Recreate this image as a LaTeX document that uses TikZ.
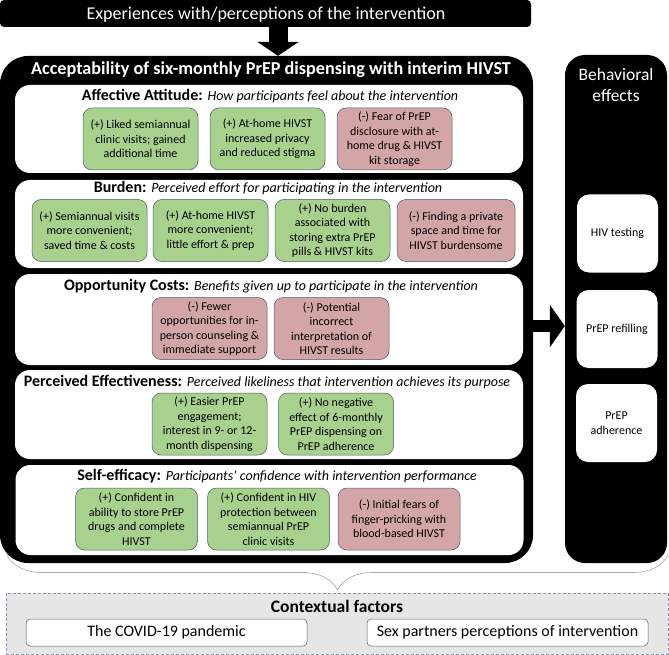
\documentclass[tikz,border=0pt]{standalone}
\usepackage{fontspec}
\setmainfont{Carlito}
\usetikzlibrary{arrows.meta,decorations.pathreplacing}

\definecolor{progreen}{HTML}{A9D18E}
\definecolor{conred}{HTML}{D4A5A7}
\definecolor{boxline}{HTML}{4F5B6E}
\definecolor{ctxgray}{HTML}{E7E6E6}
\definecolor{ctxline}{HTML}{8497B0}
\definecolor{bracegray}{HTML}{A6A6A6}

\newcommand{\sectlabel}[2]{{\fontsize{16}{19}\selectfont\bfseries #1} {\fontsize{14}{17}\selectfont\itshape #2}}

\tikzset{
  itembox/.style={draw=boxline, line width=0.5pt, rounded corners=9pt, align=center,
    inner sep=0pt, minimum height=62pt, font=\fontsize{12}{14.5}\selectfont},
  probox/.style={itembox, fill=progreen, minimum width=115pt},
  conbox/.style={itembox, fill=conred, minimum width=115pt},
  sectbox/.style={fill=white, rounded corners=15pt, minimum width=508pt, inner sep=0pt},
  heading/.style={anchor=base, inner sep=0pt, font=\fontsize{16}{19}\selectfont},
  effectbox/.style={fill=white, rounded corners=12pt, minimum width=81pt, minimum height=78pt,
    inner sep=0pt, align=center, font=\fontsize{12}{14.5}\selectfont},
  ctxbox/.style={draw=boxline, line width=0.5pt, fill=white, rounded corners=4pt,
    minimum width=281pt, minimum height=27pt, inner sep=0pt, font=\fontsize{16}{19}\selectfont},
  blockarrow/.style={draw=black}
}

\begin{document}
\begin{tikzpicture}[x=1pt, y=-1pt]
        \useasboundingbox (0,0) rectangle (669,655);

        % top bar and main frame
        \node[fill=black, rounded corners=4pt, minimum width=531pt, minimum height=27pt, inner sep=0pt] (topbar) at (265.5,13.5) {};
        \node[anchor=base, text=white, inner sep=0pt, font=\fontsize{18}{21}\selectfont] (toptext) at (266,20) {Experiences with/perceptions of the intervention};
        \node[fill=black, rounded corners=28pt, minimum width=533pt, minimum height=507pt, inner sep=0pt] (mainbox) at (266.5,309.5) {};
        \node[anchor=base, text=white, inner sep=0pt, font=\fontsize{18.2}{21}\selectfont\bfseries] (maintitle) at (271,75) {Acceptability of six-monthly PrEP dispensing with interim HIVST};

        \coordinate (downx) at (278,0);
        \draw[blockarrow, line width=19pt, -{Triangle[length=14pt,width=41pt]}] (topbar.south -| downx) -- (mainbox.north -| downx);

        % sections
        \node[sectbox, minimum height=88pt] (affect) at (269,129) {};
        \node[sectbox, minimum height=88pt] (burden) at (269,224) {};
        \node[sectbox, minimum height=91pt] (oppcost) at (269,319.5) {};
        \node[sectbox, minimum height=89pt] (effect) at (269,414.5) {};
        \node[sectbox, minimum height=90pt] (selfeff) at (269.5,510) {};

        \node[heading] (affhead) at (270,101) {\sectlabel{Affective Attitude:}{How participants feel about the intervention}};
        \node[heading] (burhead) at (268,193) {\sectlabel{Burden:}{Perceived effort for participating in the intervention}};
        \node[heading] (opphead) at (271,290) {\sectlabel{Opportunity Costs:}{Benefits given up to participate in the intervention}};
        \node[heading] (effhead) at (267,386) {\sectlabel{Perceived Effectiveness:}{Perceived likeliness that intervention achieves its purpose}};
        \node[heading] (selfhead) at (277,480) {\sectlabel{Self-efficacy:}{Participants’ confidence with intervention performance}};

        % affective attitude
        \node[probox] (aff1) at (140.5,139) {(+) Liked semiannual\\clinic visits; gained\\additional time};
        \node[probox] (aff2) at (267.5,139) {(+) At-home HIVST\\increased privacy\\and reduced stigma};
        \node[conbox] (aff3) at (394.5,139) {(-) Fear of PrEP\\disclosure with at-\\home drug \& HIVST\\kit storage};

        % burden
        \node[probox] (bur1) at (89.5,230.5) {(+) Semiannual visits\\more convenient;\\saved time \& costs};
        \node[probox] (bur2) at (210.5,230.5) {(+) At-home HIVST\\more convenient;\\little effort \& prep};
        \node[probox] (bur3) at (332.5,230.5) {(+) No burden\\associated with\\storing extra PrEP\\pills \& HIVST kits};
        \node[conbox, minimum width=118pt] (bur4) at (456,230.5) {(-) Finding a private\\space and time for\\HIVST burdensome};

        % opportunity costs
        \node[conbox] (opp1) at (209.5,328.5) {(-) Fewer\\opportunities for in-\\person counseling \&\\immediate support};
        \node[conbox] (opp2) at (331.5,328.5) {(-) Potential\\incorrect\\interpretation of\\HIVST results};

        % perceived effectiveness
        \node[probox] (eff1) at (209.5,424) {(+) Easier PrEP\\engagement;\\interest in 9- or 12-\\month dispensing};
        \node[probox] (eff2) at (336,424) {(+) No negative\\effect of 6-monthly\\PrEP dispensing on\\PrEP adherence};

        % self-efficacy
        \node[probox, minimum width=122pt] (self1) at (136.5,519) {(+) Confident in\\ability to store PrEP\\drugs and complete\\HIVST};
        \node[probox, minimum width=122pt] (self2) at (268.5,519) {(+) Confident in HIV\\protection between\\semiannual PrEP\\clinic visits};
        \node[conbox, minimum width=122pt] (self3) at (399,519) {(-) Initial fears of\\finger-pricking with\\blood-based HIVST};

        % behavioral effects
        \node[fill=black, rounded corners=20pt, minimum width=102pt, minimum height=508pt, inner sep=0pt] (effects) at (616,309) {};
        \node[text=white, align=center, inner sep=0pt, font=\fontsize{17.5}{21}\selectfont] (efftitle) at (616,84.5) {Behavioral\\effects};
        \node[effectbox] (testing) at (617.5,233.5) {HIV testing};
        \node[effectbox] (refill) at (617,329) {PrEP refilling};
        \node[effectbox] (adhere) at (616.5,423) {PrEP\\adherence};

        \coordinate (rowarrow) at (0,326);
        \draw[blockarrow, line width=12pt, -{Triangle[length=15pt,width=42pt]}] (mainbox.east |- rowarrow) -- (effects.west |- rowarrow);

        % contextual factors
        \coordinate (braceL) at (7,555);
        \coordinate (braceR) at (668,555);
        \draw[bracegray, line width=0.6pt, decorate, decoration={brace, mirror, amplitude=35pt}] (braceL) -- (braceR);

        \node[fill=ctxgray, draw=ctxline, line width=0.8pt, dash pattern=on 3pt off 2pt, minimum width=662pt, minimum height=61pt, inner sep=0pt] (context) at (337,623.5) {};
        \node[anchor=base, inner sep=0pt, font=\fontsize{17.5}{21}\selectfont\bfseries] (ctxtitle) at (337,612) {Contextual factors};
        \node[ctxbox] (covid) at (166.5,632.5) {The COVID-19 pandemic};
        \node[ctxbox] (partners) at (507.5,632.5) {Sex partners perceptions of intervention};
\end{tikzpicture}
\end{document}
